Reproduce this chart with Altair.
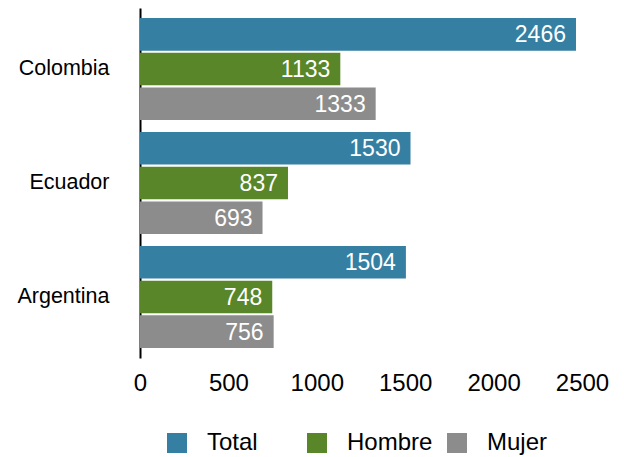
import altair as alt
import pandas as pd

countries = ["Colombia", "Ecuador", "Argentina"]
series = ["Total", "Hombre", "Mujer"]
total = [2466, 1530, 1504]
hombre = [1133, 837, 748]
mujer = [1333, 693, 756]
colors = ["#357fa3", "#588629", "#8c8c8c"]
ticks = [0, 500, 1000, 1500, 2000, 2500]

rows = []
for i, c in enumerate(countries):
    for s, vals in zip(series, [total, hombre, mujer]):
        rows.append({"pais": c, "serie": s, "valor": vals[i]})
df = pd.DataFrame(rows)

FONT = "Liberation Sans"

y = alt.Y("pais:N", sort=countries, title=None,
          scale=alt.Scale(paddingInner=0.105, paddingOuter=0.088),
          axis=alt.Axis(ticks=False, domainColor="black", domainWidth=2,
                        labelFontSize=21.5, labelColor="black", labelFont=FONT,
                        labelPadding=31))
yoff = alt.YOffset("serie:N", sort=series,
                   scale=alt.Scale(paddingInner=0.06, paddingOuter=0))
x = alt.X("valor:Q", title=None,
          scale=alt.Scale(domain=[0, 2500], nice=False),
          axis=alt.Axis(values=ticks, format="d", grid=False,
                        ticks=False, domain=False, labelFontSize=24,
                        labelColor="black", labelFont=FONT, labelPadding=13,
                        labelFlush=False, labelOverlap=False))

bars = alt.Chart(df).mark_bar().encode(
    x=x, y=y, yOffset=yoff,
    color=alt.Color("serie:N", sort=series,
                    scale=alt.Scale(domain=series, range=colors),
                    legend=alt.Legend(title=None, orient="none", direction="horizontal",
                                      legendX=25, legendY=423,
                                      symbolType="square", symbolSize=400,
                                      symbolStrokeWidth=0, symbolOpacity=1,
                                      labelFontSize=24, labelFont=FONT,
                                      labelColor="black", columnPadding=12,
                                      gridAlign="all", labelOffset=18)),
)

labels = alt.Chart(df).mark_text(align="right", baseline="middle", dx=-10, dy=1,
                                 color="white", fontSize=23, font=FONT).encode(
    x=alt.X("valor:Q"), y=alt.Y("pais:N", sort=countries),
    yOffset=alt.YOffset("serie:N", sort=series),
    text=alt.Text("valor:Q", format="d"),
)

chart = (bars + labels).properties(
    width=442, height=350,
    padding={"left": 8, "top": 0, "right": 5, "bottom": 5},
).configure_view(stroke=None)

chart.save("out.html", embed_options={"renderer": "svg", "actions": False})
